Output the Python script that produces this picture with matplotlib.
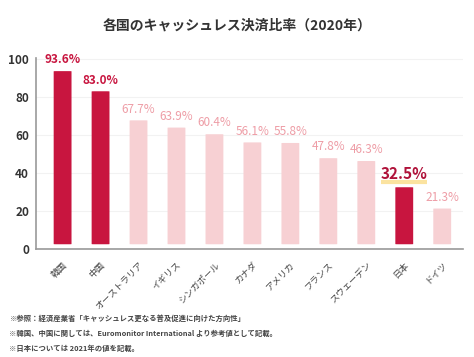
import matplotlib.pyplot as plt
from matplotlib.patches import FancyBboxPatch
from matplotlib.transforms import ScaledTranslation

plt.rcParams["font.family"] = ["Noto Sans CJK JP", "DejaVu Sans"]

countries = ["韓国", "中国", "オーストラリア", "イギリス", "シンガポール", "カナダ",
             "アメリカ", "フランス", "スウェーデン", "日本", "ドイツ"]
ratios = [93.6, 83.0, 67.7, 63.9, 60.4, 56.1, 55.8, 47.8, 46.3, 32.5, 21.3]
highlight = ["韓国", "中国", "日本"]
yticks = [0, 20, 40, 60, 80, 100]
notes = [
    "※参照：経済産業省「キャッシュレス更なる普及促進に向けた方向性」",
    "※韓国、中国に関しては、Euromonitor International より参考値として記載。",
    "※日本については 2021年の値を記載。",
]

dark = "#C8153F"
light = "#F7D0D3"
light_txt = "#EE9DA6"

fig = plt.figure(figsize=(4.74, 3.57), dpi=100)
ax = fig.add_axes([0.076, 0.3025, 0.901, 0.535])

base = 2.5
x = list(range(len(countries)))
for i, (name, v) in enumerate(zip(countries, ratios)):
    col = dark if name in highlight else light
    ax.add_patch(FancyBboxPatch(
        (i - 0.235, base), 0.47, v - base,
        boxstyle="round,pad=0,rounding_size=0.06",
        mutation_aspect=1.5,
        facecolor=col, edgecolor="none", zorder=3,
    ))
    if name == "日本":
        ax.text(i, v + 2.8, f"{v:.1f}%", ha="center", va="bottom",
                fontsize=11, fontweight="bold", color="#B0123A", zorder=5)
        ax.plot([i - 0.6, i + 0.6], [v + 2.6, v + 2.6], color="#FBE3A0",
                lw=3, solid_capstyle="butt", zorder=4)
    elif name in highlight:
        ax.text(i, v + 2.5, f"{v:.1f}%", ha="center", va="bottom",
                fontsize=8.5, fontweight="bold", color=dark, zorder=5)
    else:
        ax.text(i, v + 2.5, f"{v:.1f}%", ha="center", va="bottom",
                fontsize=8.5, color=light_txt, zorder=5)

ax.set_xlim(-0.7, 10.55)
ax.set_ylim(0, 100.5)
ax.set_yticks(yticks)
ax.set_yticklabels([str(t) for t in yticks], fontsize=8.5, color="#333333",
                   fontweight="bold")
ax.set_xticks(x)
ax.set_xticklabels(countries, rotation=45, ha="right", rotation_mode="anchor",
                   fontsize=6.5, color="#444444")
shift = ScaledTranslation(9 / 100, 0, fig.dpi_scale_trans)
for lab in ax.get_xticklabels():
    lab.set_transform(lab.get_transform() + shift)
ax.tick_params(axis="both", length=0)
ax.tick_params(axis="x", pad=8)
ax.tick_params(axis="y", pad=5)
ax.grid(axis="y", color="#F2F2F2", lw=0.8, zorder=0)
for s in ["top", "right"]:
    ax.spines[s].set_visible(False)
ax.spines["left"].set_color("#999999")
ax.spines["bottom"].set_color("#999999")
ax.spines["left"].set_linewidth(1.2)
ax.spines["bottom"].set_linewidth(1.2)

fig.text(0.5, 0.928, "各国のキャッシュレス決済比率（2020年）", ha="center",
         va="center", fontsize=10, fontweight="bold", color="#333333")

for k, line in enumerate(notes):
    fig.text(0.02, 0.108 - k * 0.042, line, ha="left", va="center",
             fontsize=5.3, color="#444444", fontweight="bold")

fig.savefig("out.png", dpi=100)
